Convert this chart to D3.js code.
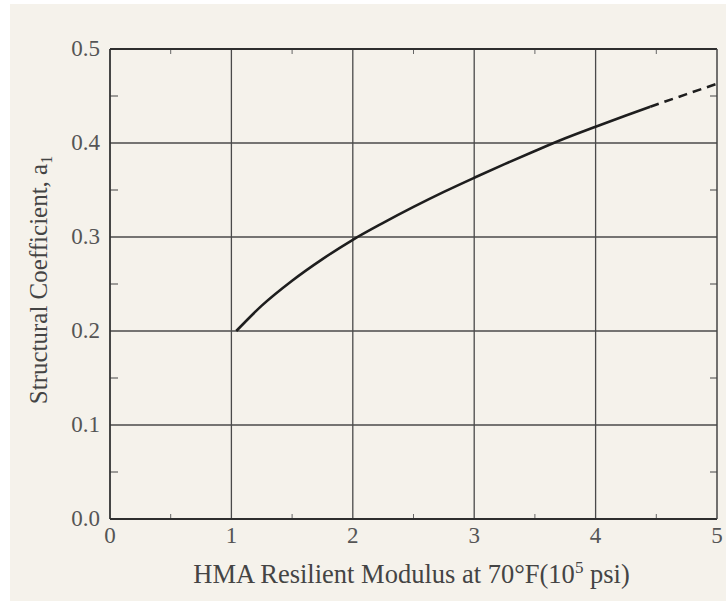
<!DOCTYPE html>
<html>
<head>
<meta charset="utf-8">
<script src="https://cdn.jsdelivr.net/npm/d3@7"></script>
<style>
  html, body { margin: 0; padding: 0; background: #ffffff; }
  svg { display: block; }
</style>
</head>
<body>
<svg id="chart" width="726" height="601"></svg>
<script>
// ---- data ----
const xTicks = [0, 1, 2, 3, 4, 5];
const yTicks = [0.0, 0.1, 0.2, 0.3, 0.4, 0.5];
const xMinor = [0.5, 1.5, 2.5, 3.5, 4.5];
const yMinor = [0.05, 0.15, 0.25, 0.35, 0.45];
const solidX = [1.04, 1.25, 1.5, 1.75, 2.0, 2.25, 2.5, 2.75, 3.0, 3.25, 3.5, 3.75, 4.0, 4.25, 4.45];
const solidY = [0.200, 0.227, 0.2535, 0.2765, 0.297, 0.315, 0.332, 0.348, 0.363, 0.3775, 0.3915, 0.405, 0.4173, 0.4293, 0.4385];
const dashX = [4.45, 4.75, 5.0];
const dashY = [0.4385, 0.452, 0.463];
const xTitle = "HMA Resilient Modulus at 70°F(10";
const yTitle = "Structural Coefficient, a";

const svg = d3.select("#chart");
const W = 726, H = 601;
const pLeft = 110, pRight = 717, pTop = 49, pBottom = 519;
const font = "'Liberation Serif', 'Times New Roman', serif";

// background (scanned paper)
svg.append("rect").attr("x", 0).attr("y", 0).attr("width", W).attr("height", H).attr("fill", "#ffffff");
svg.append("rect").attr("x", 10).attr("y", 4).attr("width", W - 10).attr("height", H - 4).attr("fill", "#f5f2eb");

const x = d3.scaleLinear().domain([0, 5]).range([pLeft, pRight]);
const y = d3.scaleLinear().domain([0, 0.5]).range([pBottom, pTop]);

const g = svg.append("g");

// grid lines
g.selectAll(".vgrid").data(xTicks.slice(1, -1)).join("line")
  .attr("x1", d => x(d)).attr("x2", d => x(d))
  .attr("y1", pTop).attr("y2", pBottom)
  .attr("stroke", "#4a4a4a").attr("stroke-width", 1.3);
g.selectAll(".hgrid").data(yTicks.slice(1, -1)).join("line")
  .attr("x1", pLeft).attr("x2", pRight)
  .attr("y1", d => y(d)).attr("y2", d => y(d))
  .attr("stroke", "#4a4a4a").attr("stroke-width", 1.3);

// minor ticks
g.selectAll(".ylm").data(yMinor).join("line")
  .attr("x1", pLeft).attr("x2", pLeft + 8)
  .attr("y1", d => y(d)).attr("y2", d => y(d))
  .attr("stroke", "#555").attr("stroke-width", 1.1);
g.selectAll(".yrm").data(yMinor).join("line")
  .attr("x1", pRight).attr("x2", pRight - 7)
  .attr("y1", d => y(d)).attr("y2", d => y(d))
  .attr("stroke", "#555").attr("stroke-width", 1.1);
g.selectAll(".xtm").data(xMinor).join("line")
  .attr("x1", d => x(d)).attr("x2", d => x(d))
  .attr("y1", pTop).attr("y2", pTop + 5)
  .attr("stroke", "#666").attr("stroke-width", 1);
g.selectAll(".xbm").data(xMinor).join("line")
  .attr("x1", d => x(d)).attr("x2", d => x(d))
  .attr("y1", pBottom).attr("y2", pBottom - 5)
  .attr("stroke", "#666").attr("stroke-width", 1);

// frame
g.append("line").attr("x1", pLeft).attr("x2", pRight).attr("y1", pTop).attr("y2", pTop)
  .attr("stroke", "#2e2e2e").attr("stroke-width", 2.2);
g.append("line").attr("x1", pLeft).attr("x2", pRight).attr("y1", pBottom).attr("y2", pBottom)
  .attr("stroke", "#2e2e2e").attr("stroke-width", 2.2);
g.append("line").attr("x1", pLeft).attr("x2", pLeft).attr("y1", pTop).attr("y2", pBottom)
  .attr("stroke", "#333").attr("stroke-width", 1.8);
g.append("line").attr("x1", pRight).attr("x2", pRight).attr("y1", pTop).attr("y2", pBottom)
  .attr("stroke", "#444").attr("stroke-width", 1.5);

// curve
const line = d3.line().x(d => x(d[0])).y(d => y(d[1])).curve(d3.curveMonotoneX);
g.append("path").datum(solidX.map((v, i) => [v, solidY[i]]))
  .attr("d", line).attr("fill", "none").attr("stroke", "#1e1e1e").attr("stroke-width", 2.6);
g.append("path").datum(dashX.map((v, i) => [v, dashY[i]]))
  .attr("d", line).attr("fill", "none").attr("stroke", "#1e1e1e").attr("stroke-width", 2.6)
  .attr("stroke-dasharray", "9,6");

// tick labels
g.selectAll(".xl").data(xTicks).join("text")
  .attr("x", d => x(d)).attr("y", pBottom + 24)
  .attr("text-anchor", "middle")
  .attr("font-family", font).attr("font-size", 23).attr("fill", "#555")
  .text(d => d3.format("d")(d));
g.selectAll(".yl").data(yTicks).join("text")
  .attr("x", pLeft - 10).attr("y", d => y(d) + 7)
  .attr("text-anchor", "end")
  .attr("font-family", font).attr("font-size", 23).attr("fill", "#555")
  .text(d => d3.format(".1f")(d));

// x title
const xt = g.append("text")
  .attr("x", (pLeft + pRight) / 2 - 2).attr("y", 583)
  .attr("text-anchor", "middle")
  .attr("font-family", font).attr("font-size", 26.5).attr("fill", "#444");
xt.append("tspan").text(xTitle);
xt.append("tspan").attr("dy", -10).attr("font-size", 17).text("5");
xt.append("tspan").attr("dy", 10).text(" psi)");

// y title
const yt = g.append("text")
  .attr("transform", `translate(47, ${(pTop + pBottom) / 2 - 4}) rotate(-90)`)
  .attr("text-anchor", "middle")
  .attr("font-family", font).attr("font-size", 25).attr("fill", "#444");
yt.append("tspan").text(yTitle);
yt.append("tspan").attr("dy", 5).attr("font-size", 16).text("1");
</script>
</body>
</html>
